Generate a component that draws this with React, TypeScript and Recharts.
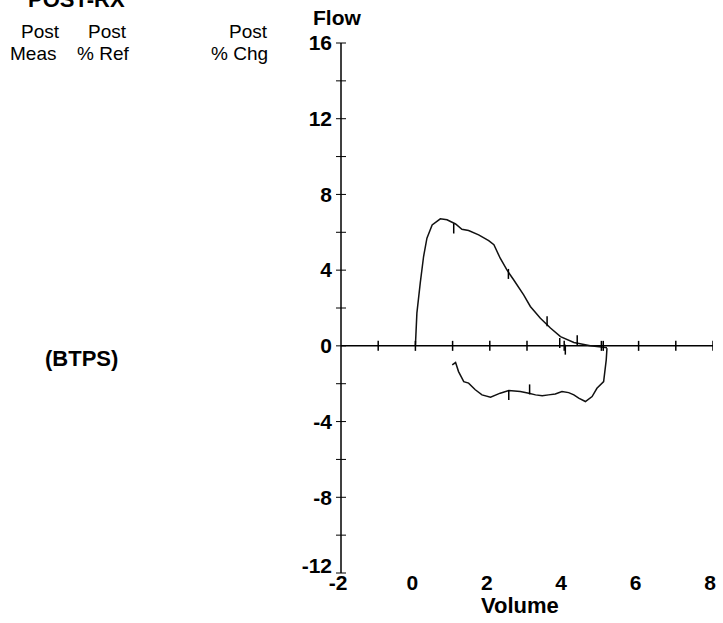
import React from 'react';
import { ComposedChart, Line, Scatter, XAxis, YAxis, ReferenceLine } from 'recharts';

const expVolume = [0.0, 0.04, 0.13, 0.22, 0.31, 0.45, 0.67, 0.85, 1.08, 1.25, 1.43, 1.7, 1.97, 2.11, 2.28, 2.46, 2.64, 2.91, 3.09, 3.36, 3.63, 3.9, 4.26, 4.7, 5.06, 5.15];
const expFlow = [0.0, 1.73, 3.31, 4.72, 5.69, 6.39, 6.71, 6.66, 6.44, 6.16, 6.09, 5.86, 5.56, 5.34, 4.63, 4.01, 3.49, 2.69, 2.08, 1.46, 0.94, 0.49, 0.18, 0.0, -0.07, -0.1];
const inspVolume = [5.15, 5.13, 5.06, 4.88, 4.75, 4.57, 4.39, 4.26, 4.12, 3.94, 3.76, 3.58, 3.41, 3.23, 3.05, 2.82, 2.51, 2.28, 2.02, 1.79, 1.61, 1.43, 1.3, 1.16, 1.08, 0.99];
const inspFlow = [-0.12, -0.74, -1.89, -2.24, -2.68, -2.94, -2.76, -2.59, -2.47, -2.41, -2.54, -2.59, -2.64, -2.59, -2.5, -2.41, -2.36, -2.5, -2.71, -2.59, -2.32, -1.97, -1.89, -1.36, -0.88, -1.0];
const markerVolume = [1.03, 2.5, 3.54, 3.88, 4.03, 4.35, 5.05, 3.07, 2.51];
const markerFlow = [6.2, 3.8, 1.3, 0.15, -0.2, 0.3, 0.0, -2.3, -2.6];
const xTickLabels = [-2, 0, 2, 4, 6, 8];
const xTickMarks = [-1, 0, 1, 2, 3, 4, 5, 6, 7, 8];
const yTicks = [-12, -10, -8, -6, -4, -2, 0, 2, 4, 6, 8, 10, 12, 14, 16];

const expData = expVolume.map((v, i) => ({ v, f: expFlow[i] }));
const inspData = inspVolume.map((v, i) => ({ v, f: inspFlow[i] }));
const markerData = markerVolume.map((v, i) => ({ v, f: markerFlow[i] }));
const xTickData = xTickMarks.map((v) => ({ v, f: 0 }));

const FONT = '"Liberation Sans", Arial, sans-serif';

const VMark = (props: any) => {
  const { cx, cy } = props;
  if (cx == null || cy == null) return null;
  return <line x1={cx} x2={cx} y1={cy - 5} y2={cy + 5} stroke="#000" strokeWidth={1.5} />;
};

const YTick = (props: any) => {
  const { x, y, payload } = props;
  const val = payload.value;
  const major = val % 4 === 0;
  return (
    <g>
      <line x1={x - 5} x2={x + 5} y1={y} y2={y} stroke="#000" strokeWidth={1} />
      {major && (
        <text
          x={x - 9}
          y={y}
          dy={val === -12 ? 0 : '0.35em'}
          textAnchor="end"
          fontFamily={FONT}
          fontWeight="bold"
          fontSize={21}
          fill="#000"
        >
          {val}
        </text>
      )}
    </g>
  );
};

export default function App() {
  return (
    <div style={{ position: 'absolute', left: 0, top: 0, width: 723, height: 623, background: '#fff' }}>
      <ComposedChart
        width={723}
        height={623}
        margin={{ top: 43, right: 10, bottom: 20, left: 281 }}
      >
        <XAxis
          type="number"
          dataKey="v"
          domain={[-2, 8]}
          ticks={xTickLabels}
          axisLine={false}
          tickLine={false}
          tickSize={0}
          tickMargin={2}
          height={30}
          allowDataOverflow
          tick={{ fontFamily: FONT, fontWeight: 'bold', fontSize: 21, fill: '#000', dx: -3 }}
        />
        <YAxis
          type="number"
          dataKey="f"
          domain={[-12, 16]}
          ticks={yTicks}
          width={60}
          axisLine={{ stroke: '#000', strokeWidth: 1.5 }}
          tickLine={false}
          tickSize={0}
          tickMargin={0}
          allowDataOverflow
          interval={0}
          tick={<YTick />}
        />
        <ReferenceLine y={0} stroke="#000" strokeWidth={1.5} />
        <Scatter data={xTickData} shape={<VMark />} isAnimationActive={false} />
        <Line data={expData} dataKey="f" type="linear" stroke="#111" strokeWidth={1.5} dot={false} isAnimationActive={false} />
        <Line data={inspData} dataKey="f" type="linear" stroke="#111" strokeWidth={1.5} dot={false} isAnimationActive={false} />
        <Scatter data={markerData} shape={<VMark />} isAnimationActive={false} />
      </ComposedChart>
      <svg width={723} height={623} style={{ position: 'absolute', left: 0, top: 0, pointerEvents: 'none' }}>
        <g fontFamily={FONT} fill="#000">
          <text x={28} y={7} fontSize={22} fontWeight="bold">POST-RX</text>
          <text x={21} y={38} fontSize={19}>Post</text>
          <text x={88} y={38} fontSize={19}>Post</text>
          <text x={229} y={38} fontSize={19}>Post</text>
          <text x={10} y={60} fontSize={19}>Meas</text>
          <text x={77} y={60} fontSize={19}>% Ref</text>
          <text x={211} y={60} fontSize={19}>% Chg</text>
          <text x={313} y={25} fontSize={21} fontWeight="bold">Flow</text>
          <text x={45} y={366} fontSize={22} fontWeight="bold">(BTPS)</text>
          <text x={481} y={613} fontSize={22} fontWeight="bold">Volume</text>
        </g>
      </svg>
    </div>
  );
}
